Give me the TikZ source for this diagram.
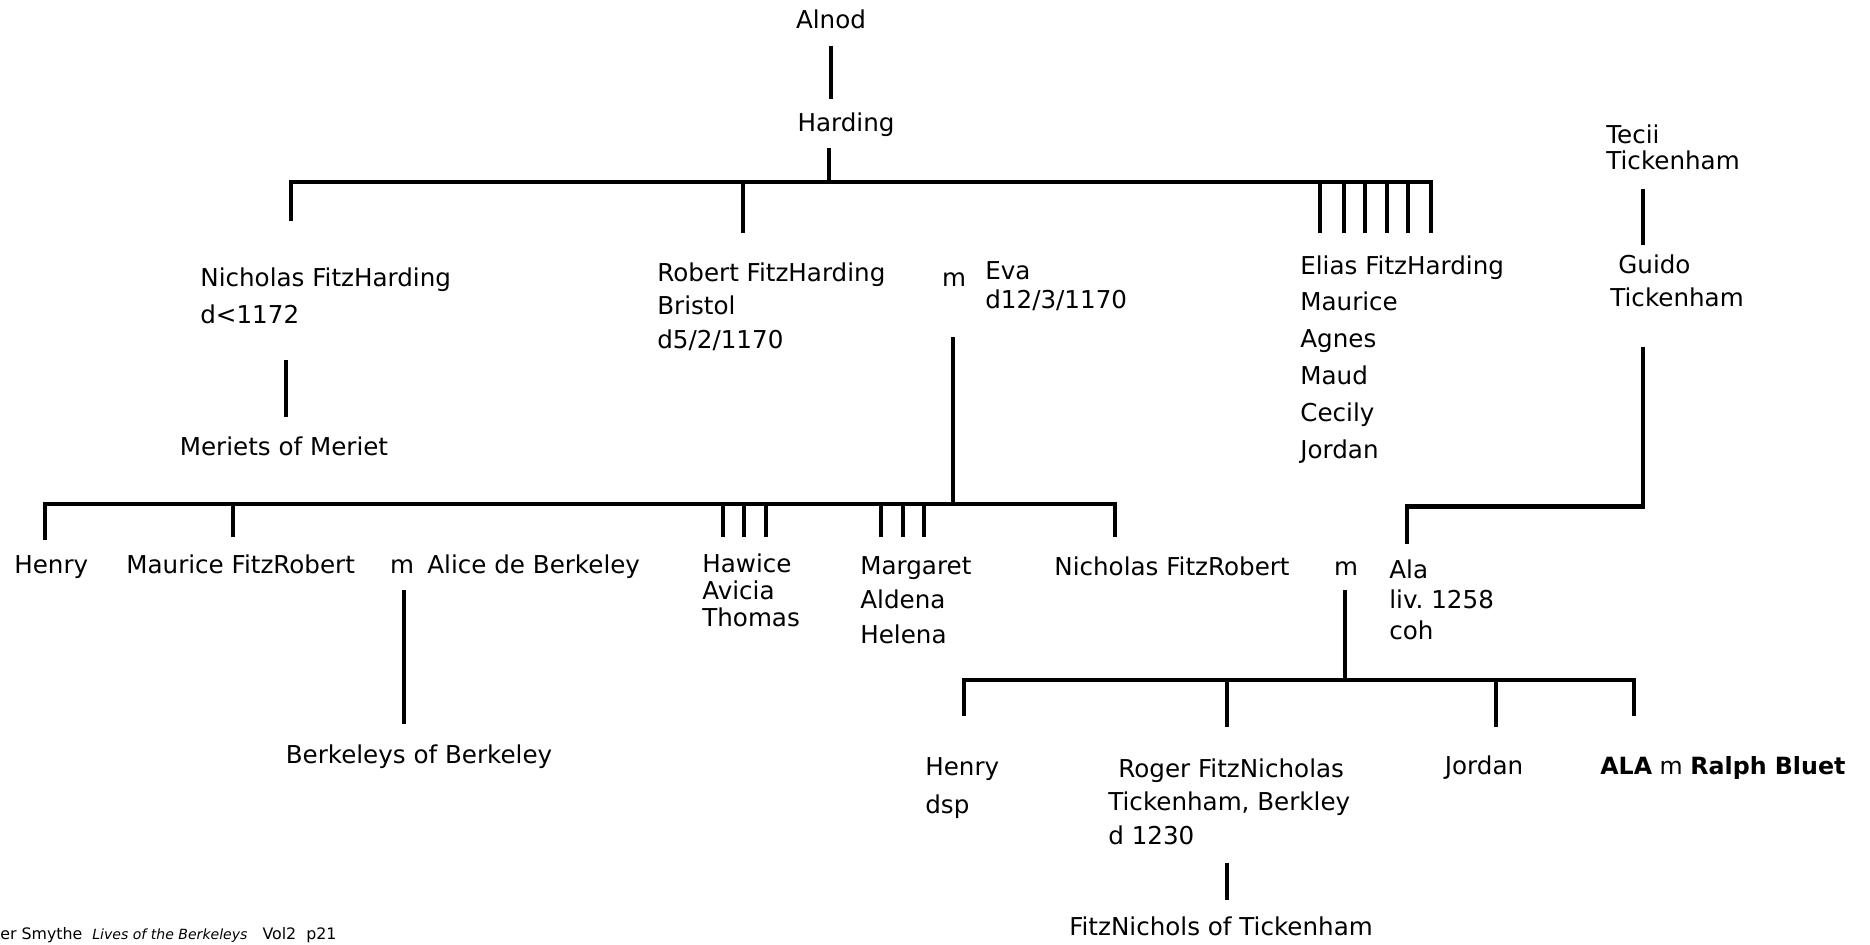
\documentclass[tikz,border=0pt]{standalone}
\usepackage{fontspec}
\setmainfont{DejaVu Sans}
\begin{document}
\begin{tikzpicture}[x=0.02cm,y=-0.02cm,
  person/.style={inner sep=0pt,align=left,font=\fontsize{14}{19.3}\selectfont},
  line/.style={line width=2.6pt},
  bar/.style={line width=2.6pt,line join=miter}]
\useasboundingbox (0,0) rectangle (1870,944);

% Alnod and Harding
\node[person,anchor=base] (alnod) at (831,28) {Alnod};
\node[person,anchor=base] (harding) at (846,131) {Harding};
\draw[line] (alnod.south) ++(0,17) -- ++(0,53);
\coordinate (top) at (829,182);
\draw[line] (harding.south) ++(-17,12) -- (top);
\draw[bar] (291,221) |- (1431,182) -- (1431,233);
\foreach \x in {743,1320,1344,1365,1387,1408}
  \draw[line] (\x,182) -- (\x,233);

% sons of Harding
\node[person,anchor=north west,font=\fontsize{14}{21.6}\selectfont] (nicholasFH) at (200,267) {Nicholas FitzHarding\\d<1172};
\node[person,anchor=base] (meriets) at (284,455) {Meriets of Meriet};
\draw[line] (meriets.north) ++(2,-19) -- ++(0,-57);
\node[person,anchor=north west] (robert) at (657,262) {Robert FitzHarding\\Bristol\\d5/2/1170};
\node[person,anchor=base] (mC) at (954,286) {m};
\node[person,anchor=north west,font=\fontsize{14}{16.5}\selectfont] (eva) at (985,261) {Eva\\d12/3/1170};
\node[person,anchor=north west,font=\fontsize{14}{21}\selectfont] (elias) at (1300,255) {Elias FitzHarding\\Maurice\\Agnes\\Maud\\Cecily\\Jordan};

% Tickenham side
\node[person,anchor=north west,font=\fontsize{14}{14.8}\selectfont] (tecii) at (1606,124) {Tecii\\Tickenham};
\node[person,anchor=north west,font=\fontsize{14}{18.8}\selectfont] (guido) at (1610,254) {\hspace*{0.16cm}Guido\\Tickenham};
\draw[line] (tecii.south west) ++(37,19) -- ++(0,56);
\draw[bar] (guido.south west) ++(33,40) -- ++(0,160) -- ++(-236,0) -- ++(0,37);

% children of Robert and Eva
\coordinate (b2) at (953,504);
\draw[line] (mC.south) ++(-1,51) -- (b2);
\draw[bar] (45,540) |- (1115,504) -- (1115,537);
\foreach \x in {233,723,744,766,881,903,924}
  \draw[line] (\x,504) -- (\x,537);

\node[person,anchor=base west] (henryA) at (14,573) {Henry};
\node[person,anchor=base west] (maurice) at (126,573) {Maurice FitzRobert};
\node[person,anchor=base] (mA) at (402,573) {m};
\node[person,anchor=base west] (alice) at (427,573) {Alice de Berkeley};
\node[person,anchor=base] (berkeleys) at (419,763) {Berkeleys of Berkeley};
\draw[line] (mA.south) ++(2,17) -- ++(0,134);
\node[person,anchor=north west,font=\fontsize{14}{15.4}\selectfont] (hawice) at (702,553) {Hawice\\Avicia\\Thomas};
\node[person,anchor=north west,font=\fontsize{14}{19.6}\selectfont] (margaret) at (860,556) {Margaret\\Aldena\\Helena};
\node[person,anchor=base west] (nicholasFR) at (1054,575) {Nicholas FitzRobert};
\node[person,anchor=base] (mB) at (1346,575) {m};
\node[person,anchor=north west,font=\fontsize{14}{17.6}\selectfont] (ala) at (1389,559) {Ala\\liv.\ 1258\\coh};

% children of Nicholas and Ala
\coordinate (b3) at (1345,680);
\draw[line] (mB.south) ++(-1,15) -- (b3);
\draw[bar] (964,716) |- (1634,680) -- (1634,716);
\foreach \x in {1227,1496}
  \draw[line] (\x,680) -- (\x,727);

\node[person,anchor=north west,font=\fontsize{14}{21.6}\selectfont] (henryB) at (925,757) {Henry\\dsp};
\node[person,anchor=north west] (roger) at (1108,758) {\hspace*{0.2cm}Roger FitzNicholas\\Tickenham, Berkley\\d 1230};
\node[person,anchor=base] (jordanB) at (1484,774) {Jordan};
\node[person,anchor=base west,font=\fontsize{13.5}{16}\selectfont] (alaB) at (1600,774) {\textbf{ALA} m \textbf{Ralph Bluet}};
\node[person,anchor=base] (fitznichols) at (1221,935) {FitzNichols of Tickenham};
\draw[line] (fitznichols.north) ++(6,-16) -- ++(0,-37);

% source
\node[person,anchor=base west,font=\fontsize{9}{11}\selectfont] (source) at (0,939) {er Smythe\ \ {\fontsize{8}{10}\selectfont\itshape Lives of the Berkeleys}\ \ \ Vol2\ \ p21};
\end{tikzpicture}
\end{document}
